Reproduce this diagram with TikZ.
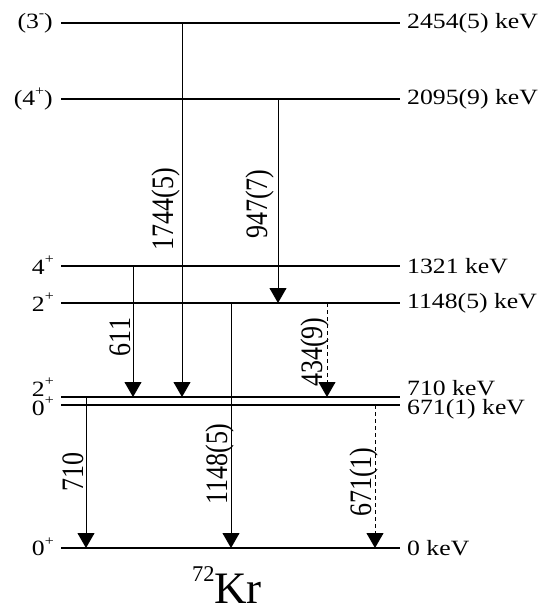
\documentclass[tikz,border=0pt]{standalone}
\usepackage{fontspec}
\setmainfont{Liberation Serif}
\newfontfamily\widefont{Liberation Serif}[FakeStretch=1.18]
\newfontfamily\slimfont{Liberation Serif}[FakeStretch=0.833]
\usetikzlibrary{arrows.meta}
\newcommand{\parity}[1]{\raisebox{10.5pt}{\fontsize{13.5}{15}\selectfont#1}}

\begin{document}
\begin{tikzpicture}[x=1pt, y=-1pt,
  lev/.style={line width=1.2pt},
  gam/.style={line width=0.9pt, -{Triangle[width=17pt,length=15pt]}},
  weak/.style={gam, dash pattern=on 4pt off 3pt},
  txt/.style={font=\widefont\fontsize{21.8}{24}\selectfont, inner sep=0pt},
  glab/.style={font=\slimfont\fontsize{31.2}{34}\selectfont, inner sep=0pt,
               rotate=90, anchor=base}]
  \useasboundingbox (0,0) rectangle (548,606);
  % levels
  \foreach \e/\y in {0/548, 671/405, 710/397, 1148/303, 1321/266, 2095/99, 2454/23} {
    \coordinate (l\e) at (61,\y);
    \coordinate (r\e) at (400,\y);
    \draw[lev] (l\e) -- (r\e);
  }
  \node[txt, anchor=east] (s2454) at (53,23) {(3\parity{-})};
  \node[txt, anchor=east] (s2095) at (53,99) {(4\parity{+})};
  \node[txt, anchor=east] (s1321) at (54,265) {4\parity{+}};
  \node[txt, anchor=east] (s1148) at (54,302) {2\parity{+}};
  \node[txt, anchor=base east] (s710) at (54,396) {2\parity{+}};
  \node[txt, anchor=base east] (s671) at (54,415) {0\parity{+}};
  \node[txt, anchor=east] (s0) at (54,547) {0\parity{+}};
  \node[txt, anchor=west] (e2454) at (407,23) {2454(5) keV};
  \node[txt, anchor=west] (e2095) at (407,99) {2095(9) keV};
  \node[txt, anchor=west] (e1321) at (407,266) {1321 keV};
  \node[txt, anchor=west] (e1148) at (407,303) {1148(5) keV};
  \node[txt, anchor=base west] (e710) at (407,395.5) {710 keV};
  \node[txt, anchor=base west] (e671) at (407,414) {671(1) keV};
  \node[txt, anchor=west] (e0) at (407,548) {0 keV};
  % transitions
  \draw[gam] (182,0 |- l2454) -- (182,0 |- l710);
  \draw[gam] (278,0 |- l2095) -- (278,0 |- l1148);
  \draw[gam] (133,0 |- l1321) -- (133,0 |- l710);
  \draw[weak] (327,0 |- l1148) -- (327,0 |- l710);
  \draw[gam] (86,0 |- l710) -- (86,0 |- l0);
  \draw[gam] (231,0 |- l1148) -- (231,0 |- l0);
  \draw[weak] (375,0 |- l671) -- (375,0 |- l0);
  \node[glab] (g1744) at (173,209) {1744(5)};
  \node[glab] (g947) at (267,204) {947(7)};
  \node[glab] (g611) at (130,337) {611};
  \node[glab] (g434) at (322,352) {434(9)};
  \node[glab] (g710) at (83,472) {710};
  \node[glab] (g1148) at (227,464) {1148(5)};
  \node[glab] (g671) at (371,482) {671(1)};
  \node[font=\fontsize{45}{48}\selectfont, inner sep=0pt, anchor=base] (nucl)
    at (227,603) {\raisebox{22pt}{\fontsize{22.5}{25}\selectfont 72}Kr};
\end{tikzpicture}
\end{document}
